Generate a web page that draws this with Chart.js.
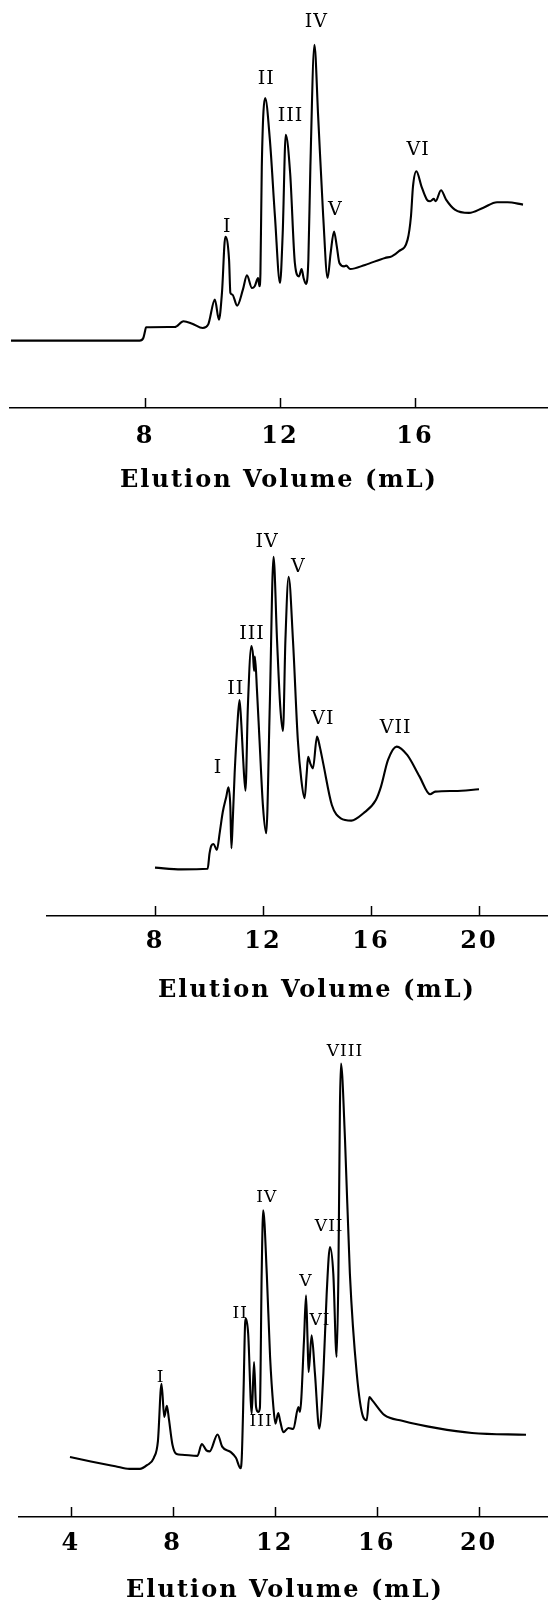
<!DOCTYPE html>
<html><head><meta charset="utf-8">
<script src="https://cdn.jsdelivr.net/npm/chart.js@4.4.0/dist/chart.umd.min.js"></script>
<style>
html,body{margin:0;padding:0;background:#fff;width:548px;height:1600px;overflow:hidden;}
canvas{position:absolute;left:0;}
</style></head><body>
<canvas id="c1" width="600" height="498" style="top:0px"></canvas>
<canvas id="c2" width="600" height="496" style="top:510px"></canvas>
<canvas id="c3" width="600" height="577" style="top:1030px"></canvas>
<script>
// ---------- Panel 1 ----------
const p1Volume = [4.03,7.84,7.95,8.00,8.03,8.88,9.14,9.40,9.71,9.87,10.07,10.19,10.28,10.38,10.49,10.53,10.59,10.73,10.90,11.02,11.17,11.25,11.35,11.39,11.42,11.46,11.56,11.70,11.85,12.00,12.08,12.17,12.30,12.44,12.56,12.64,12.70,12.77,12.84,12.90,13.02,13.13,13.28,13.41,13.50,13.60,13.68,13.76,13.90,13.96,14.08,14.52,15.11,15.31,15.52,15.78,15.88,15.94,16.04,16.19,16.35,16.45,16.56,16.61,16.77,16.92,17.18,17.60,18.01,18.43,18.74,19.20];
const p1Signal = [70.6,70.6,73.4,80.4,84.6,84.9,90.9,88.4,83.9,87.4,113.6,92.6,120.6,179.5,155.5,120.6,118.8,107.3,124.1,139.0,125.8,127.6,136.3,127.6,141.6,253.0,325.0,281.0,200.8,131.0,183.5,286.5,246.3,152.0,138.0,145.7,136.0,130.0,155.5,253.3,380.8,305.7,200.8,136.3,162.5,185.1,170.0,152.0,148.5,149.2,145.7,150.0,157.3,159.0,164.3,176.5,201.0,232.4,248.2,232.4,218.5,216.7,219.2,216.7,228.2,218.5,208.0,204.5,209.7,215.7,215.7,213.2];
const p1Ticks = [8, 12, 16];
const p1PeakNames = ["I","II","III","IV","V","VI"];
const p1PeakX = [10.44, 11.59, 12.31, 13.08, 13.64, 16.09];
const p1PeakY = [189.5, 344.4, 305.7, 404.4, 207.5, 270.8];

// ---------- Panel 2 ----------
const p2Volume = [8.0,8.97,9.95,10.02,10.09,10.17,10.29,10.40,10.51,10.64,10.72,10.79,10.83,10.88,10.95,11.05,11.13,11.20,11.26,11.35,11.44,11.57,11.63,11.67,11.70,11.78,11.87,12.0,12.12,12.25,12.39,12.52,12.64,12.74,12.83,12.95,13.11,13.29,13.42,13.54,13.62,13.67,13.75,13.85,14.0,14.1,14.23,14.55,14.88,15.27,15.72,16.18,16.37,16.63,16.95,17.34,17.80,18.19,18.38,19.10,20.0];
const p2Signal = [50.7,48.9,49.5,65.7,74,75.5,69.2,88,109,125,134.9,114.8,71,100,149.6,200,226.4,200,167,131.3,219.6,283,273.6,257,272,235,184.8,114.6,86.7,219,376.6,289,219,194,289,355.7,289,184.5,142.7,123.4,150,167,160,154.8,188,178,160,116.4,102.4,100,107.7,121.6,135.6,163.6,177.6,168.8,146.1,127.6,130.4,131.1,132.8];
const p2Ticks = [8, 12, 16, 20];
const p2PeakNames = ["I","II","III","IV","V","VI","VII"];
const p2PeakX = [10.33, 10.99, 11.59, 12.15, 13.31, 14.22, 16.91];
const p2PeakY = [154.8, 237.7, 295.1, 391.7, 365.6, 206.8, 196.8];

// ---------- Panel 3 ----------
const p3Volume = [3.97,4.79,5.75,6.30,6.71,6.99,7.26,7.42,7.56,7.67,7.77,7.85,7.99,8.15,8.36,8.97,9.14,9.32,9.45,9.76,9.94,10.28,10.48,10.66,10.71,10.78,10.84,10.87,10.96,11.10,11.19,11.27,11.36,11.42,11.49,11.55,11.69,11.82,11.95,12.03,12.14,12.22,12.34,12.54,12.73,12.93,12.99,13.15,13.23,13.29,13.33,13.45,13.58,13.75,13.91,14.04,14.17,14.30,14.43,14.50,14.56,14.60,14.76,14.95,15.22,15.47,15.61,15.71,15.83,16.31,17.0,18.37,19.74,21.86];
const p3Signal = [56.6,52.4,47.9,45.4,45.4,48.9,55.9,71.7,125.8,94.4,104.9,92.6,68.2,59.4,58.7,57.7,68.9,62.9,61.9,77.9,66.4,61.2,55.9,46.1,56.6,120,182.5,187.2,173,97.6,146.3,103.8,99.1,103,229.7,289.4,229.7,151,103.8,88,98.1,90,80,84,83,103.8,99.1,166.8,209.2,166.8,136.8,171.5,135.3,83.4,135.3,210.8,254.8,229.7,151,229.7,387,427.9,355.5,229.7,135.3,94.4,91.3,113.2,110.1,96.1,90.9,83.9,79.3,77.6];
const p3Ticks = [4, 8, 12, 16, 20];
const p3PeakNames = ["I","II","III","IV","V","VI","VII","VIII"];
const p3PeakX = [7.53, 10.65, 11.47, 11.69, 13.22, 13.78, 14.14, 14.76];
const p3PeakY = [131.5, 192.0, 90.5, 301.2, 222.6, 185.6, 274.5, 438.8];

const axisTitle = "Elution Volume (mL)";

// ---------- plugins ----------
const spacing = {
  id: 'spacing',
  beforeDraw(chart) { chart.ctx.letterSpacing = '2px'; }
};
const innerTicks = {
  id: 'innerTicks',
  afterDraw(chart, args, opts) {
    const x = chart.scales.x, ctx = chart.ctx, yb = chart.chartArea.bottom;
    ctx.save();
    ctx.strokeStyle = '#000'; ctx.lineWidth = 1.5;
    x.ticks.forEach(t => {
      const px = Math.round(x.getPixelForValue(t.value)) + 0.5;
      ctx.beginPath(); ctx.moveTo(px, yb); ctx.lineTo(px, yb - opts.length); ctx.stroke();
    });
    ctx.restore();
  }
};
const peakLabels = {
  id: 'peakLabels',
  afterDatasetsDraw(chart, args, opts) {
    const {ctx, scales: {x, y}} = chart;
    ctx.save();
    ctx.font = opts.font; ctx.fillStyle = '#000';
    ctx.textAlign = 'center'; ctx.textBaseline = 'middle';
    ctx.letterSpacing = '1px';
    opts.names.forEach((t, i) => ctx.fillText(t, x.getPixelForValue(opts.xs[i]), y.getPixelForValue(opts.ys[i])));
    ctx.restore();
  }
};

function makeChart(id, vols, sigs, ticks, names, pxs, pys, cfg) {
  const pts = vols.map((v, i) => ({x: v, y: sigs[i]}));
  return new Chart(document.getElementById(id), {
    type: 'line',
    data: { datasets: [{ data: pts, borderColor: '#000', borderWidth: 2.1, pointRadius: 0,
      fill: false, cubicInterpolationMode: 'monotone' }] },
    options: {
      responsive: false, animation: false, devicePixelRatio: 1,
      layout: { padding: { left: cfg.left, right: cfg.right, top: 0, bottom: 0 } },
      plugins: {
        legend: { display: false }, tooltip: { enabled: false },
        innerTicks: { length: 10 },
        peakLabels: { names: names, xs: pxs, ys: pys, font: cfg.labelFont }
      },
      scales: {
        x: {
          type: 'linear', min: cfg.xmin, max: cfg.xmax,
          afterBuildTicks: s => { s.ticks = ticks.map(v => ({value: v})); },
          afterFit: s => { s.height = 90; },
          grid: { display: false, drawTicks: false },
          border: { display: true, color: '#000', width: 1.6 },
          ticks: { color: '#000', padding: cfg.tickPad, autoSkip: false, maxRotation: 0,
            font: { family: 'DejaVu Serif', size: 24, weight: 'bold', lineHeight: 1 } },
          title: { display: true, text: axisTitle, color: '#000',
            padding: { top: 0, bottom: cfg.titlePad },
            font: { family: 'DejaVu Serif', size: 24, weight: 'bold', lineHeight: 1 } }
        },
        y: { type: 'linear', min: 0, max: cfg.ymax, display: false }
      }
    },
    plugins: [spacing, innerTicks, peakLabels]
  });
}

makeChart('c1', p1Volume, p1Signal, p1Ticks, p1PeakNames, p1PeakX, p1PeakY,
  { left: 10, right: 52, xmin: 4, xmax: 19.94, ymax: 427.7, tickPad: 17, titlePad: 5, labelFont: '19px "DejaVu Serif"' });
makeChart('c2', p2Volume, p2Signal, p2Ticks, p2PeakNames, p2PeakX, p2PeakY,
  { left: 47, right: 13, xmin: 4, xmax: 24, ymax: 425.6, tickPad: 14, titlePad: 3, labelFont: '19px "DejaVu Serif"' });
makeChart('c3', p3Volume, p3Signal, p3Ticks, p3PeakNames, p3PeakX, p3PeakY,
  { left: 19, right: 49, xmin: 1.97, xmax: 22.84, ymax: 459.6, tickPad: 15, titlePad: 4.5, labelFont: '17px "DejaVu Serif"' });
</script>
</body></html>
